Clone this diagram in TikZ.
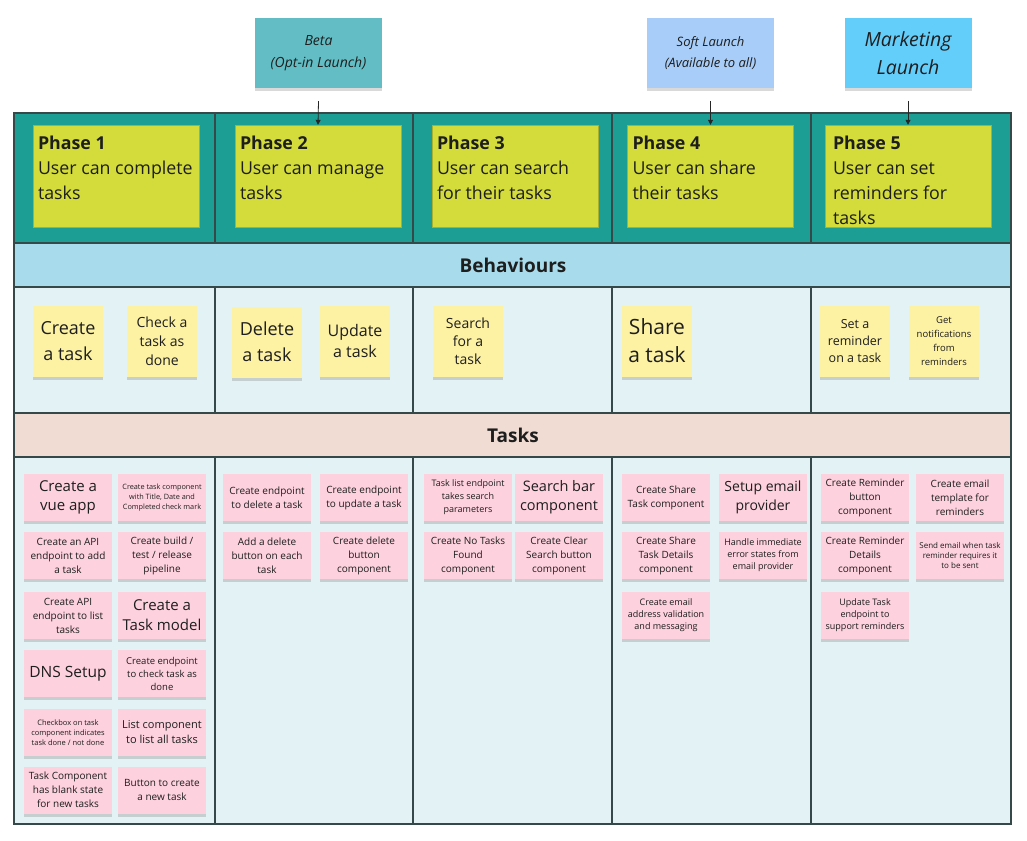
\documentclass[tikz,border=0pt]{standalone}
\usepackage{fontspec}
\setmainfont{Open Sans}
\usepackage{xcolor}
\usepackage{tikz}
\usetikzlibrary{shapes,arrows,positioning,calc,shadows,arrows.meta}

\definecolor{ink}{HTML}{1E1E1E}
\definecolor{gridline}{HTML}{35494A}
\definecolor{phaserow}{HTML}{1C9E94}
\definecolor{phasey}{HTML}{D3DC3A}
\definecolor{bandb}{HTML}{A8DCEC}
\definecolor{bandt}{HTML}{F0DCD2}
\definecolor{rowbg}{HTML}{E3F2F4}
\definecolor{notey}{HTML}{FDF1A3}
\definecolor{notep}{HTML}{FDD1DE}
\definecolor{betac}{HTML}{62BDC5}
\definecolor{softc}{HTML}{A7CDF8}
\definecolor{mktc}{HTML}{64CEFB}

\tikzset{
  fs/.style 2 args={font=\fontsize{#1}{#2}\selectfont},
  ifs/.style 2 args={font=\fontsize{#1}{#2}\selectfont\itshape},
  sticky/.style={inner sep=1pt, align=center, text=ink,
    drop shadow={shadow xshift=0pt, shadow yshift=-3pt, opacity=0.3}},
  note/.style={sticky, fill=notey, minimum width=70pt, minimum height=71pt},
  todo/.style={sticky, fill=notep, minimum width=88pt, minimum height=47pt},
  launch/.style={sticky, minimum width=127pt, minimum height=70pt},
  phasebox/.style={fill=phasey, draw=phasey!80!black, line width=0.4pt,
    minimum width=166pt, minimum height=102pt, inner sep=0pt},
  phasetxt/.style={anchor=north west, inner sep=0pt, align=left, text=ink,
    fs={17.8}{25}},
  band/.style={text=ink, font=\fontsize{19}{22}\selectfont\bfseries},
  grid/.style={draw=gridline, line width=1.2pt},
  marker/.style={draw=gray!30!black, line width=0.8pt,
    -{Triangle[length=5pt,width=5pt]}},
}

\begin{document}
\begin{tikzpicture}[x=1pt, y=-1pt]
  \useasboundingbox (0,0) rectangle (1027,840);

  % Board background
  \fill[phaserow] (14,113) rectangle (1011,243);
  \fill[bandb] (14,243) rectangle (1011,287);
  \fill[rowbg] (14,287) rectangle (1011,413);
  \fill[bandt] (14,413) rectangle (1011,457);
  \fill[rowbg] (14,457) rectangle (1011,824);

  % Grid lines
  \draw[grid] (14,113) rectangle (1011,824);
  \draw[grid] (14,243) -- (1011,243) (14,287) -- (1011,287)
    (14,413) -- (1011,413) (14,457) -- (1011,457);
  \draw[grid] (215,113) -- (215,243) (413,113) -- (413,243)
    (612,113) -- (612,243) (811,113) -- (811,243);
  \draw[grid] (215,287) -- (215,413) (413,287) -- (413,413)
    (612,287) -- (612,413) (811,287) -- (811,413);
  \draw[grid] (215,457) -- (215,824) (413,457) -- (413,824)
    (612,457) -- (612,824) (811,457) -- (811,824);

  % Phases
  \node[phasebox] (p1) at (116,176) {};
  \node[phasebox] (p2) at (318,176) {};
  \node[phasebox] (p3) at (515,176) {};
  \node[phasebox] (p4) at (710.5,176) {};
  \node[phasebox] (p5) at (908,176) {};
  \node[phasetxt] (p1t) at ([xshift=5pt,yshift=-11pt]p1.north west) {\textbf{Phase 1}\\User can complete\\tasks};
  \node[phasetxt] (p2t) at ([xshift=5pt,yshift=-11pt]p2.north west) {\textbf{Phase 2}\\User can manage\\tasks};
  \node[phasetxt] (p3t) at ([xshift=5pt,yshift=-11pt]p3.north west) {\textbf{Phase 3}\\User can search\\for their tasks};
  \node[phasetxt] (p4t) at ([xshift=5pt,yshift=-11pt]p4.north west) {\textbf{Phase 4}\\User can share\\their tasks};
  \node[phasetxt] (p5t) at ([xshift=8pt,yshift=-11pt]p5.north west) {\textbf{Phase 5}\\User can set\\reminders for\\tasks};

  % Launches
  \node[launch, fill=betac, ifs={14}{22}] (beta) at (318.5,53) {Beta\\(Opt-in Launch)};
  \node[launch, fill=softc, ifs={13}{21}] (soft) at (710.5,53) {Soft Launch\\(Available to all)};
  \node[launch, fill=mktc, ifs={19.5}{28}] (mkt) at (908,53) {Marketing\\Launch};
  \draw[marker] ([yshift=-13pt]beta.south) -- (p2.north);
  \draw[marker] ([yshift=-13pt]soft.south) -- (p4.north);
  \draw[marker] ([yshift=-13pt]mkt.south) -- (p5.north);

  % Bands
  \node[band] (beh) at (513,265) {Behaviours};
  \node[band] (tsk) at (513,435) {Tasks};

  % Behaviours
  \node[note, fs={18}{26}] (b1) at (68,341) {Create\\a task};
  \node[note, fs={14}{19}] (b2) at (162,341) {Check a\\task as\\done};
  \node[note, fs={18}{26}] (b3) at (267,342) {Delete\\a task};
  \node[note, fs={16}{21}] (b4) at (355,341) {Update\\a task};
  \node[note, fs={14}{18}] (b5) at (468,341) {Search\\for a\\task};
  \node[note, fs={21}{28}] (b6) at (657,341) {Share\\a task};
  \node[note, fs={12.5}{17}] (b7) at (855,341) {Set a\\reminder\\on a task};
  \node[note, fs={9.5}{14}] (b8) at (944,341) {Get\\notifications\\from\\reminders};

  % Tasks - phase 1
  \node[todo, fs={15}{19}] (t11) at (68,497.5) {Create a\\vue app};
  \node[todo, fs={7.3}{10}] (t12) at (162,497.5) {Create task component\\with Title, Date and\\Completed check mark};
  \node[todo, fs={10}{14}] (t13) at (68,555.5) {Create an API\\endpoint to add\\a task};
  \node[todo, fs={10}{14}] (t14) at (162,555.5) {Create build /\\test / release\\pipeline};
  \node[todo, fs={10}{14}] (t15) at (68,615.5) {Create API\\endpoint to list\\tasks};
  \node[todo, fs={15}{20}] (t16) at (162,615.5) {Create a\\Task model};
  \node[todo, fs={15.5}{20}] (t17) at (68,673.5) {DNS Setup};
  \node[todo, fs={9.5}{13}] (t18) at (162,673.5) {Create endpoint\\to check task as\\done};
  \node[todo, fs={7.5}{10}] (t19) at (68,732.5) {Checkbox on task\\component indicates\\task done / not done};
  \node[todo, fs={11}{15}] (t110) at (162,732.5) {List component\\to list all tasks};
  \node[todo, fs={10}{14}] (t111) at (68,790) {Task Component\\has blank state\\for new tasks};
  \node[todo, fs={10}{14}] (t112) at (162,790) {Button to create\\a new task};

  % Tasks - phase 2
  \node[todo, fs={10}{14}] (t21) at (267,497.5) {Create endpoint\\to delete a task};
  \node[todo, fs={10}{14}] (t22) at (364,497.5) {Create endpoint\\to update a task};
  \node[todo, fs={10}{14}] (t23) at (267,555.5) {Add a delete\\button on each\\task};
  \node[todo, fs={10}{14}] (t24) at (364,555.5) {Create delete\\button\\component};

  % Tasks - phase 3
  \node[todo, fs={9}{13}] (t31) at (468,497.5) {Task list endpoint\\takes search\\parameters};
  \node[todo, fs={14.5}{19}] (t32) at (559,497.5) {Search bar\\component};
  \node[todo, fs={10}{14}] (t33) at (468,555.5) {Create No Tasks\\Found\\component};
  \node[todo, fs={10}{14}] (t34) at (559,555.5) {Create Clear\\Search button\\component};

  % Tasks - phase 4
  \node[todo, fs={10}{14}] (t41) at (666,497.5) {Create Share\\Task component};
  \node[todo, fs={14}{19}] (t42) at (763,497.5) {Setup email\\provider};
  \node[todo, fs={10}{14}] (t43) at (666,555.5) {Create Share\\Task Details\\component};
  \node[todo, fs={9}{12}] (t44) at (763,555.5) {Handle immediate\\error states from\\email provider};
  \node[todo, fs={9}{12}] (t45) at (666,615.5) {Create email\\address validation\\and messaging};

  % Tasks - phase 5
  \node[todo, fs={10}{14}] (t51) at (865,497.5) {Create Reminder\\button\\component};
  \node[todo, fs={10}{14}] (t52) at (960,497.5) {Create email\\template for\\reminders};
  \node[todo, fs={10}{14}] (t53) at (865,555.5) {Create Reminder\\Details\\component};
  \node[todo, fs={8}{10}] (t54) at (960,555.5) {Send email when task\\reminder requires it\\to be sent};
  \node[todo, fs={9}{12}] (t55) at (865,615.5) {Update Task\\endpoint to\\support reminders};
\end{tikzpicture}
\end{document}
